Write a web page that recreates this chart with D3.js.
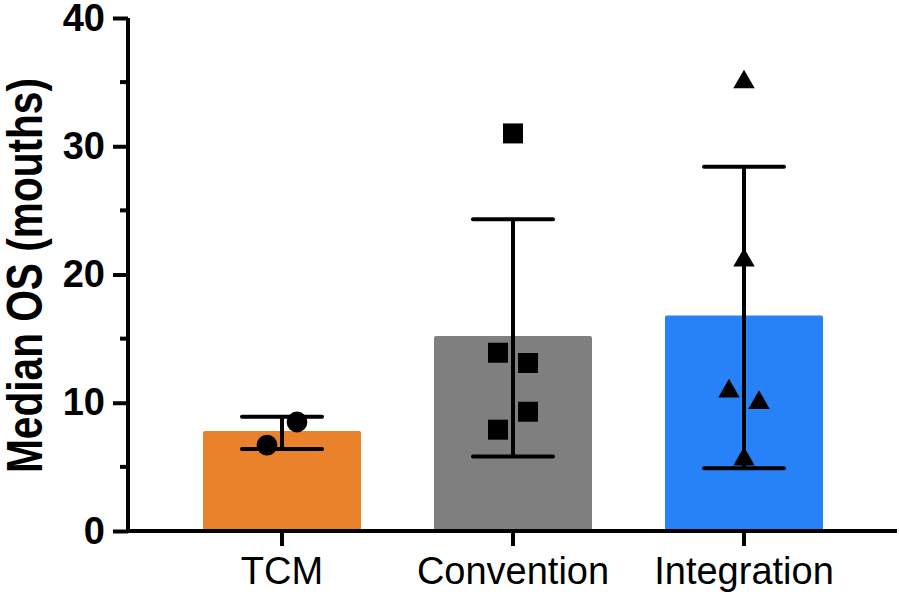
<!DOCTYPE html>
<html>
<head>
<meta charset="utf-8">
<script src="https://cdn.jsdelivr.net/npm/d3@7"></script>
<style>
  html, body { margin: 0; padding: 0; background: #fff; }
  svg { display: block; font-family: "Liberation Sans", Arial, Helvetica, sans-serif; }
</style>
</head>
<body>
<svg id="chart" width="899" height="596"></svg>
<script>
// data
const categories = ['TCM', 'Convention', 'Integration'];
const means = [7.8, 15.2, 16.8];
const errLow = [6.4, 5.8, 4.9];
const errHigh = [8.9, 24.3, 28.4];
const tcmPoints = [6.7, 8.5];
const conventionPoints = [31.0, 13.9, 13.1, 7.9, 9.3];
const integrationPoints = [35.0, 21.1, 10.9, 10.0, 5.6];
const yTicks = [0, 10, 20, 30, 40];
const yMinorTicks = [5, 15, 25, 35];

const points = [tcmPoints, conventionPoints, integrationPoints];
const colors = ['#EA822B', '#807F80', '#2882F7'];
const shapes = [d3.symbolCircle, d3.symbolSquare, d3.symbolTriangle];
const shapeSize = [340, 400, 200];

const svg = d3.select('#chart');

const y = d3.scaleLinear().domain([0, 40]).range([531, 18]);
const x = d3.scaleBand()
    .domain(categories)
    .range([166.5, 859.5])
    .paddingInner(0.316)
    .paddingOuter(0.158);

const cx = c => x(c) + x.bandwidth() / 2;

// bars
svg.append('g').selectAll('rect')
    .data(categories)
    .join('rect')
    .attr('x', d => x(d))
    .attr('y', (d, i) => y(means[i]))
    .attr('width', x.bandwidth())
    .attr('height', (d, i) => y(0) - y(means[i]))
    .attr('rx', 2)
    .attr('fill', (d, i) => colors[i]);

// error bars
const err = svg.append('g')
    .attr('stroke', '#000')
    .attr('stroke-width', 4)
    .attr('stroke-linecap', 'round');

categories.forEach((c, i) => {
    err.append('line')
        .attr('x1', cx(c)).attr('x2', cx(c))
        .attr('y1', y(errLow[i])).attr('y2', y(errHigh[i]))
        .attr('stroke-linecap', 'butt');
    [errLow[i], errHigh[i]].forEach(v => {
        err.append('line')
            .attr('x1', cx(c) - 40).attr('x2', cx(c) + 40)
            .attr('y1', y(v)).attr('y2', y(v));
    });
});

// spread points that sit close together, alternating left / right
const spread = 15;
function offsets(vals) {
    const order = vals.map((v, i) => i).sort((a, b) => vals[a] - vals[b]);
    const groups = [];
    order.forEach(i => {
        const last = groups[groups.length - 1];
        if (last && vals[i] - vals[last[last.length - 1]] < 2) last.push(i);
        else groups.push([i]);
    });
    const off = vals.map(() => 0);
    groups.forEach(g => {
        if (g.length < 2) return;
        g.slice().sort((a, b) => a - b).forEach((i, k) => { off[i] = k % 2 ? spread : -spread; });
    });
    return off;
}

categories.forEach((c, i) => {
    const off = offsets(points[i]);
    svg.append('g').selectAll('path')
        .data(points[i])
        .join('path')
        .attr('d', d3.symbol(shapes[i], shapeSize[i]))
        .attr('transform', (d, k) => `translate(${cx(c) + off[k]},${y(d)})`)
        .attr('fill', '#000');
});

// y axis
const yAxis = svg.append('g')
    .attr('transform', 'translate(128,0)')
    .call(d3.axisLeft(y).tickValues(yTicks).tickSize(15).tickPadding(8));
yAxis.select('.domain').attr('d', `M0,${y(40)}V${y(0)}`);
yAxis.selectAll('line, path').attr('stroke', '#000').attr('stroke-width', 4);
yAxis.selectAll('text')
    .attr('font-size', 38)
    .attr('font-weight', 'bold')
    .attr('font-family', '"Liberation Sans", Arial, sans-serif')
    .attr('fill', '#000');

svg.append('g').selectAll('line')
    .data(yMinorTicks)
    .join('line')
    .attr('x1', 120).attr('x2', 128)
    .attr('y1', d => y(d)).attr('y2', d => y(d))
    .attr('stroke', '#000').attr('stroke-width', 4);

// x axis
const xAxis = svg.append('g')
    .attr('transform', `translate(0,${y(0)})`)
    .call(d3.axisBottom(x).tickSize(15).tickPadding(11));
xAxis.select('.domain').attr('d', 'M126,0H897');
xAxis.selectAll('line, path').attr('stroke', '#000').attr('stroke-width', 4);
xAxis.selectAll('text')
    .attr('font-size', 38)
    .attr('font-family', '"Liberation Sans", Arial, sans-serif')
    .attr('fill', '#000');

// y axis title
svg.append('text')
    .attr('transform', 'translate(42,275.5) rotate(-90)')
    .attr('text-anchor', 'middle')
    .attr('font-size', 50)
    .attr('font-weight', 'bold')
    .attr('textLength', 395)
    .attr('lengthAdjust', 'spacingAndGlyphs')
    .text('Median OS (mouths)');
</script>
</body>
</html>
